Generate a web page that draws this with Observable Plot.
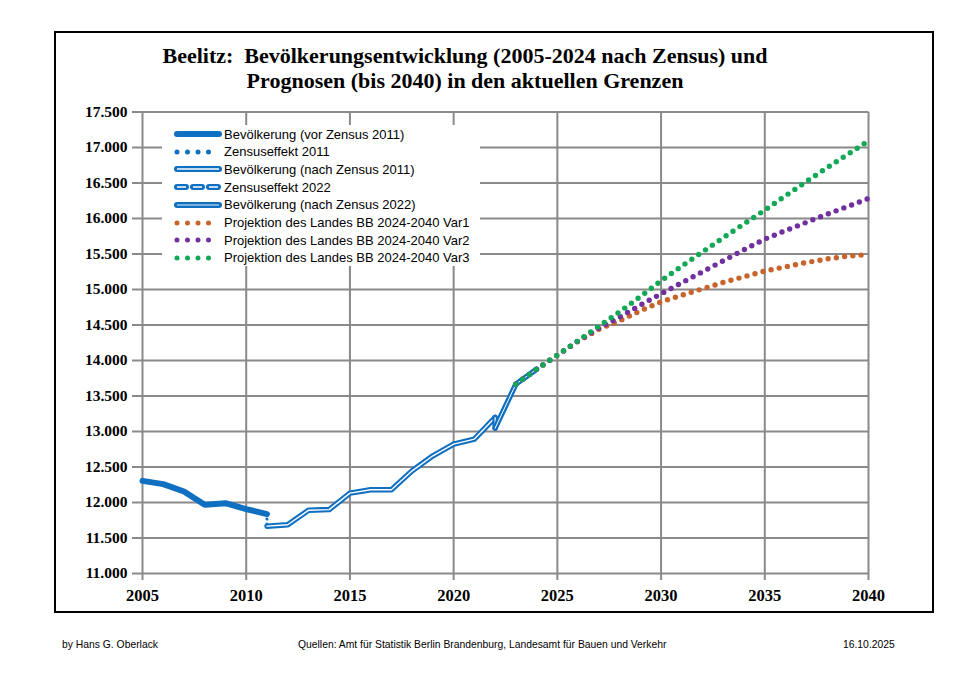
<!DOCTYPE html>
<html>
<head>
<meta charset="utf-8">
<script src="https://cdn.jsdelivr.net/npm/d3@7"></script>
<script src="https://cdn.jsdelivr.net/npm/@observablehq/plot@0.6"></script>
<style>
  html, body { margin: 0; padding: 0; background: #fff; }
  #wrap { position: relative; width: 960px; height: 679px; overflow: hidden; background: #fff; }
  #border { position: absolute; left: 54px; top: 31px; width: 880px; height: 582px; box-sizing: border-box; border: 2px solid #000; }
  #chart { position: absolute; left: 0; top: 0; }
  #title { position: absolute; left: 0; top: 43px; width: 930px; text-align: center; font-family: "Liberation Serif", "DejaVu Serif", serif; font-weight: bold; font-size: 22px; line-height: 25px; color: #000; }
  #legend { position: absolute; left: 162px; top: 125px; width: 318px; height: 141px; background: #fff; font-family: "Liberation Sans", Arial, sans-serif; font-size: 13px; color: #000; }
  .row { position: absolute; left: 12px; height: 16px; display: flex; align-items: center; }
  .row svg { width: 48px; height: 10px; margin-right: 2px; }
  .foot { position: absolute; top: 638px; font-family: "Liberation Sans Narrow", "Liberation Sans", Arial, sans-serif; font-size: 11px; color: #000; white-space: nowrap; transform: scaleX(0.94); transform-origin: left center; }
  g[aria-label="y-axis tick label"] text, g[aria-label="x-axis tick label"] text { font-weight: bold; font-family: "Liberation Serif", "DejaVu Serif", serif; }
</style>
</head>
<body>
<div id="wrap">
  <div id="chart"></div>
  <div id="border"></div>
  <div id="title">Beelitz:&nbsp; Bevölkerungsentwicklung (2005-2024 nach Zensus) und<br>Prognosen (bis 2040) in den aktuellen Grenzen</div>
  <div id="legend"></div>
  <div class="foot" style="left:62px">by Hans G. Oberlack</div>
  <div class="foot" style="left:298px">Quellen: Amt für Statistik Berlin Brandenburg, Landesamt für Bauen und Verkehr</div>
  <div class="foot" style="left:843px">16.10.2025</div>
</div>
<script>
// ---- data ----
const yearsVor2011 = [2005, 2006, 2007, 2008, 2009, 2010, 2011];
const popVor2011 = [12305, 12259, 12155, 11967, 11990, 11907, 11837];

const yearsZensus2011 = [2011, 2011];
const popZensus2011 = [11837, 11667];

const yearsNach2011 = [2011, 2012, 2013, 2014, 2015, 2016, 2017, 2018, 2019, 2020, 2021, 2022];
const popNach2011 = [11667, 11686, 11890, 11900, 12132, 12179, 12180, 12446, 12658, 12822, 12893, 13197];

const yearsZensus2022 = [2022, 2022];
const popZensus2022 = [13197, 13048];

const yearsNach2022 = [2022, 2023, 2024];
const popNach2022 = [13048, 13667, 13878];

const yearsProj = [2023, 2024, 2025, 2026, 2027, 2028, 2029, 2030, 2031, 2032, 2033, 2034, 2035, 2036, 2037, 2038, 2039, 2040];
const projVar1 = [13667, 13878, 14076, 14270, 14440, 14560, 14700, 14826, 14920, 15010, 15100, 15180, 15260, 15320, 15380, 15430, 15470, 15493];
const projVar2 = [13667, 13878, 14076, 14275, 14460, 14610, 14780, 14939, 15095, 15250, 15405, 15560, 15710, 15830, 15945, 16060, 16170, 16282];
const projVar3 = [13667, 13878, 14076, 14280, 14484, 14685, 14900, 15122, 15330, 15530, 15730, 15925, 16118, 16320, 16520, 16715, 16905, 17092];

const xTicks = [2005, 2010, 2015, 2020, 2025, 2030, 2035, 2040];
const yTicks = [11000, 11500, 12000, 12500, 13000, 13500, 14000, 14500, 15000, 15500, 16000, 16500, 17000, 17500];

const legendLabels = [
  "Bevölkerung (vor Zensus 2011)",
  "Zensuseffekt 2011",
  "Bevölkerung (nach Zensus 2011)",
  "Zensuseffekt 2022",
  "Bevölkerung (nach Zensus 2022)",
  "Projektion des Landes BB 2024-2040 Var1",
  "Projektion des Landes BB 2024-2040 Var2",
  "Projektion des Landes BB 2024-2040 Var3"
];

// ---- build ----
const blue = "#0f6fc0", orange = "#c8632a", purple = "#7030a0", green = "#13a855";
const toRows = (xs, ys) => xs.map((x, i) => ({x, y: ys[i]}));
const fmt = d => d3.format(",")(d).replace(/,/g, ".");
const dotted = {strokeDasharray: "0,8.3", strokeLinecap: "round", strokeWidth: 5.4};

const plot = Plot.plot({
  width: 960,
  height: 625,
  marginLeft: 142,
  marginRight: 92,
  marginTop: 111.5,
  marginBottom: 52,
  x: {domain: [2005, 2040]},
  y: {domain: [11000, 17500]},
  style: {background: "transparent", color: "#000", fontFamily: "Liberation Serif, serif"},
  marks: [
    Plot.gridX(xTicks, {stroke: "#8a8a8a", strokeOpacity: 1, strokeWidth: 2}),
    Plot.gridY(yTicks, {stroke: "#8a8a8a", strokeOpacity: 1, strokeWidth: 2}),
    Plot.axisY(yTicks, {tickSize: 10, tickPadding: 5, tickFormat: fmt, stroke: "#8a8a8a", strokeWidth: 2, fill: "#000", fontSize: 15.5, label: null}),
    Plot.axisX(xTicks, {tickSize: 7, tickPadding: 9, tickFormat: d => String(d), stroke: "#8a8a8a", strokeWidth: 2, fill: "#000", fontSize: 16.5, label: null}),
    // before census 2011
    Plot.line(toRows(yearsVor2011, popVor2011), {x: "x", y: "y", stroke: blue, strokeWidth: 6, strokeLinecap: "round", strokeLinejoin: "round"}),
    Plot.line(toRows(yearsZensus2011, popZensus2011), {x: "x", y: "y", stroke: blue, strokeWidth: 3, strokeDasharray: "0,5", strokeLinecap: "round"}),
    // after census 2011 (double line)
    Plot.line(toRows(yearsNach2011, popNach2011), {x: "x", y: "y", stroke: blue, strokeWidth: 5.5, strokeLinecap: "round", strokeLinejoin: "round"}),
    Plot.line(toRows(yearsNach2011, popNach2011), {x: "x", y: "y", stroke: "#fff", strokeWidth: 1.4, strokeLinejoin: "round"}),
    // census effect 2022
    Plot.line(toRows(yearsZensus2022, popZensus2022), {x: "x", y: "y", stroke: blue, strokeWidth: 5.5, strokeLinecap: "round"}),
    Plot.line(toRows(yearsZensus2022, popZensus2022), {x: "x", y: "y", stroke: "#fff", strokeWidth: 1.2}),
    // after census 2022
    Plot.line(toRows(yearsNach2022, popNach2022), {x: "x", y: "y", stroke: blue, strokeWidth: 5.5, strokeLinecap: "round", strokeLinejoin: "round"}),
    Plot.line(toRows(yearsNach2022, popNach2022), {x: "x", y: "y", stroke: "#fff", strokeWidth: 1, strokeLinejoin: "round"}),
    // projections
    Plot.line(toRows(yearsProj, projVar1), {x: "x", y: "y", stroke: orange, ...dotted}),
    Plot.line(toRows(yearsProj, projVar2), {x: "x", y: "y", stroke: purple, ...dotted}),
    Plot.line(toRows(yearsProj, projVar3), {x: "x", y: "y", stroke: green, ...dotted})
  ]
});
document.getElementById("chart").appendChild(plot);

// ---- legend ----
const swatches = [
  `<line x1="3" y1="5" x2="45" y2="5" stroke="${blue}" stroke-width="6" stroke-linecap="round"/>`,
  `<line x1="3" y1="5" x2="45" y2="5" stroke="${blue}" stroke-width="5" stroke-linecap="round" stroke-dasharray="0,10.5"/>`,
  `<line x1="3" y1="5" x2="45" y2="5" stroke="${blue}" stroke-width="6" stroke-linecap="round"/><line x1="3" y1="5" x2="45" y2="5" stroke="#fff" stroke-width="1.6"/>`,
  `<line x1="3" y1="5" x2="45" y2="5" stroke="${blue}" stroke-width="6" stroke-linecap="round" stroke-dasharray="9,7"/><line x1="3" y1="5" x2="45" y2="5" stroke="#fff" stroke-width="1.6" stroke-dasharray="9,7"/>`,
  `<line x1="3" y1="5" x2="45" y2="5" stroke="${blue}" stroke-width="6" stroke-linecap="round"/><line x1="3" y1="5" x2="45" y2="5" stroke="#fff" stroke-width="0.9"/>`,
  `<line x1="3" y1="5" x2="45" y2="5" stroke="${orange}" stroke-width="5" stroke-linecap="round" stroke-dasharray="0,10.5"/>`,
  `<line x1="3" y1="5" x2="45" y2="5" stroke="${purple}" stroke-width="5" stroke-linecap="round" stroke-dasharray="0,10.5"/>`,
  `<line x1="3" y1="5" x2="45" y2="5" stroke="${green}" stroke-width="5" stroke-linecap="round" stroke-dasharray="0,10.5"/>`
];
const legend = document.getElementById("legend");
legendLabels.forEach((lab, i) => {
  const row = document.createElement("div");
  row.className = "row";
  row.style.top = (1 + i * 17.7) + "px";
  row.innerHTML = `<svg viewBox="0 0 48 10">${swatches[i]}</svg><span>${lab}</span>`;
  legend.appendChild(row);
});
</script>
</body>
</html>
